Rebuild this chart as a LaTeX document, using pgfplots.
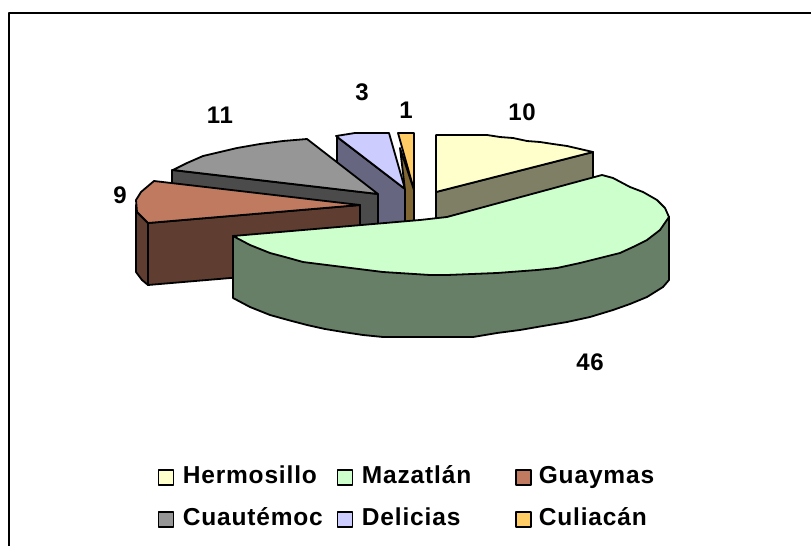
\documentclass[border=0pt]{standalone}
\usepackage{fontspec}
\setmainfont{Liberation Sans}
\usepackage{pgfplots}
\pgfplotsset{compat=1.18}
\definecolor{hermoT}{HTML}{FFFFCC}\definecolor{hermoS}{HTML}{7F7F66}
\definecolor{mazaT}{HTML}{CCFFCC}\definecolor{mazaS}{HTML}{667F66}
\definecolor{guayT}{HTML}{BF7A60}\definecolor{guayS}{HTML}{5F3D30}
\definecolor{cuauT}{HTML}{969696}\definecolor{cuauS}{HTML}{4B4B4B}
\definecolor{deliT}{HTML}{CCCCFF}\definecolor{deliS}{HTML}{666680}
\definecolor{culiT}{HTML}{FFCC66}\definecolor{culiS}{HTML}{806633}
\newcommand{\lblfont}{\fontsize{24}{26}\selectfont\bfseries\addfontfeatures{LetterSpace=2.8}}
\newcommand{\legfont}{\fontsize{24.5}{26}\selectfont\bfseries\addfontfeatures{LetterSpace=3.4}}
\begin{document}
\begin{tikzpicture}
\path[use as bounding box] (0,0) rectangle (811pt,546pt);
\begin{axis}[
  at={(0,0)},anchor=south west,
  scale only axis,width=811pt,height=546pt,
  xmin=0,xmax=811,ymin=0,ymax=546,y dir=reverse,
  hide axis,clip=false,
  every axis plot/.append style={draw=black,line width=1.8pt,line join=round},
  legend columns=3,legend cell align=left,
  legend image code/.code={\draw[#1,line width=1.6pt] (0pt,-7.5pt) rectangle (15pt,7.5pt);},
  legend style={at={(axis cs:157.5,466)},anchor=north west,draw=none,fill=none,inner sep=0pt,
    font=\legfont,
    nodes={inner sep=0pt,text height=17pt,text depth=5pt},
    row sep=20pt,
    /tikz/column 1/.style={column sep=8.5pt},
    /tikz/column 2/.style={column sep=14pt},
    /tikz/column 3/.style={column sep=8.5pt},
    /tikz/column 4/.style={column sep=44pt},
    /tikz/column 5/.style={column sep=7pt}},
]
% legend, in the reference's order
\addlegendimage{fill=hermoT}\addlegendentry{Hermosillo}
\addlegendimage{fill=mazaT}\addlegendentry{Mazatlán}
\addlegendimage{fill=guayT}\addlegendentry{Guaymas}
\addlegendimage{fill=cuauT}\addlegendentry{Cuautémoc}
\addlegendimage{fill=deliT}\addlegendentry{Delicias}
\addlegendimage{fill=culiT}\addlegendentry{Culiacán}
% frame: only top and left are visible
\addplot[forget plot,line width=2pt,line cap=butt] coordinates {(9,546)(9,12.5)(811,12.5)};
% Delicias
\addplot[forget plot,fill=deliS] coordinates {(337,137)(405,189)(405,226)(337,226)} --cycle;
\addplot[forget plot,fill=deliT] coordinates {(336,136)(355,133)(389,133)(405,189)} --cycle;
% Cuautemoc
\addplot[forget plot,fill=cuauS] coordinates {(172,170)(378,194)(378,228)(172,192)} --cycle;
\addplot[forget plot,fill=cuauT] coordinates {(173,170)(187,163)(203,156)(220,152)(237,148)(260,144)(283,141)(307,139)(378,194)} --cycle;
% Guaymas
\addplot[forget plot,fill=guayS] coordinates {(148,223)(360,205)(360,267)(148,285)} --cycle;
\addplot[forget plot,fill=guayS] coordinates {(148,223)(137,212)(136,205)(136,272)(142,280)(148,285)} --cycle;
\addplot[forget plot,fill=guayT] coordinates {(148,223)(137,212)(136,200)(141,192)(154,181)(360,205)} --cycle;
% Culiacan
\addplot[forget plot,fill=culiT] coordinates {(398,133)(414,133)(414,190)} --cycle;
\addplot[forget plot,fill=culiS] coordinates {(400,148)(405,190)(405,222)(414,222)(414,190)} --cycle;
% Hermosillo
\addplot[forget plot,fill=hermoS] coordinates {(436,192)(593,152)(593,180)(436,220)} --cycle;
\addplot[forget plot,fill=hermoT] coordinates {(436,135)(487,135)(500,137)(513,138)(527,141)(540,142)(553,144)(567,146)(580,149)(593,152)(436,192)} --cycle;
% Mazatlan
\addplot[forget plot,fill=mazaS] coordinates {(233,236)(233,298)(250,307)(270,315)(288,320)(307,325)(325,329)(343,332)(363,335)(383,337)(417,337)(473,337)(497,333)(520,330)(543,326)(567,322)(590,317)(613,310)(630,304)(647,297)(663,287)(669,280)(669,217)(500,260)(300,250)} --cycle;
\addplot[forget plot,fill=mazaT] coordinates {(233,236)(420,220)(447,217)(602,175)(613,178)(630,187)(643,192)(657,200)(665,208)(669,217)(660,230)(647,240)(633,247)(620,253)(600,258)(580,263)(557,268)(537,270)(497,273)(447,275)(430,275)(383,272)(343,267)(303,262)(285,257)(270,253)(250,245)} --cycle;
% data labels
\node[font=\lblfont] at (axis cs:522,112) {10};
\node[font=\lblfont] at (axis cs:406,110) {1};
\node[font=\lblfont] at (axis cs:362,92) {3};
\node[font=\lblfont] at (axis cs:220,115) {11};
\node[font=\lblfont] at (axis cs:120,195) {9};
\node[font=\lblfont] at (axis cs:590,362) {46};
\end{axis}
\end{tikzpicture}
\end{document}
